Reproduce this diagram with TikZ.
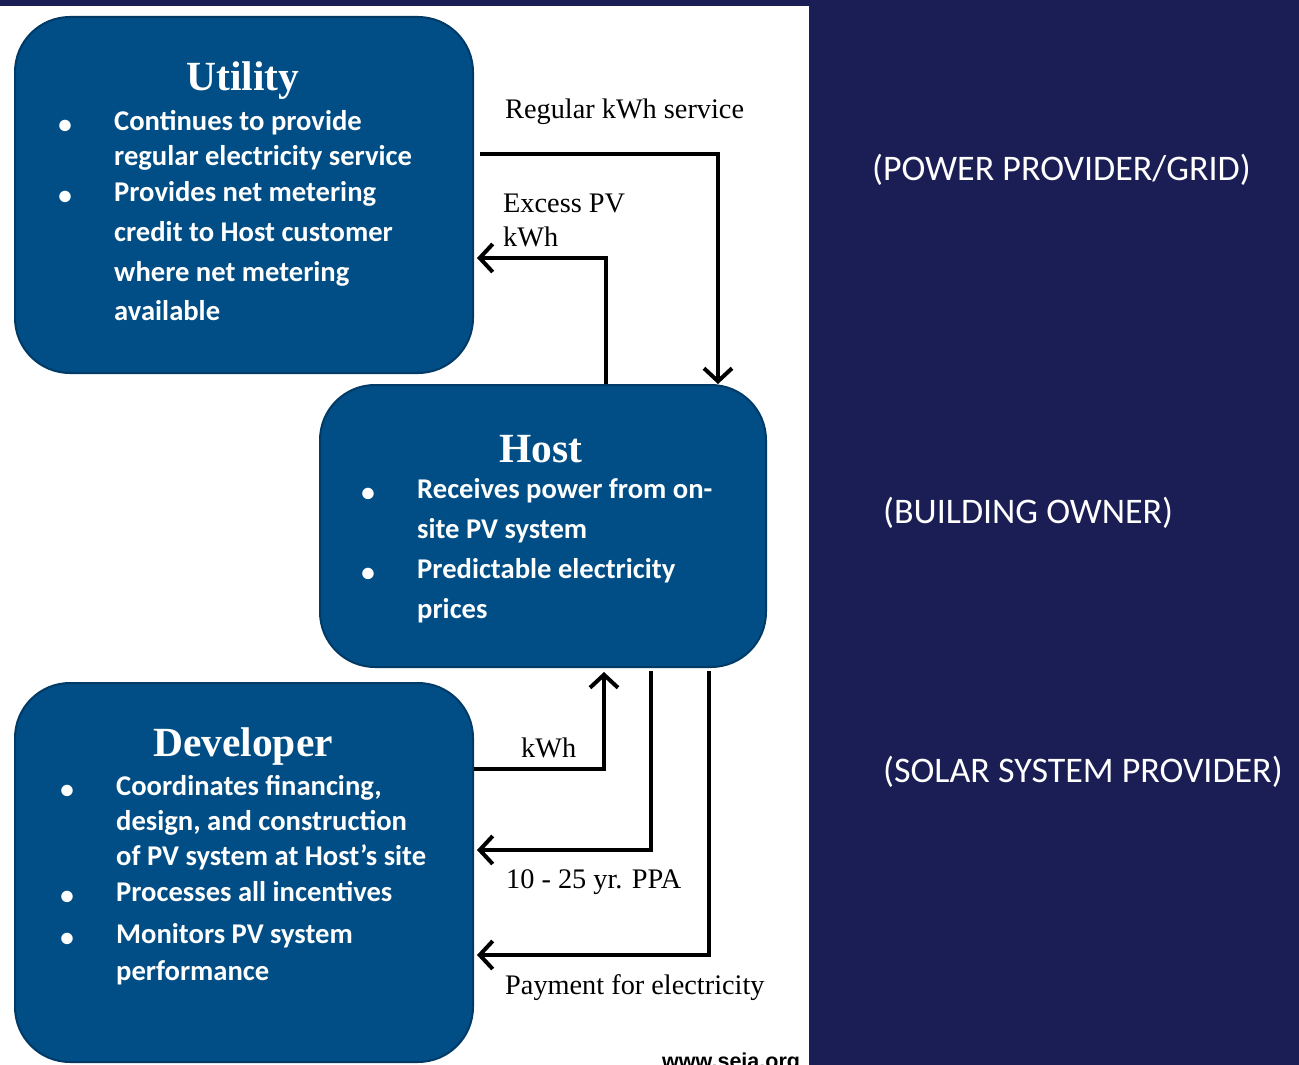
\documentclass[tikz,border=0pt]{standalone}
\usepackage{fontspec}
\setmainfont{Liberation Serif}
\newfontfamily\calfont{Carlito}
\newfontfamily\lsansfont{Liberation Sans}
\usetikzlibrary{arrows.meta}
\definecolor{navy}{RGB}{27,30,84}
\definecolor{boxblue}{RGB}{0,78,133}
\definecolor{boxedge}{RGB}{0,58,102}
\begin{document}
\begin{tikzpicture}[x=1pt,y=-1pt,
 box/.style={draw=boxedge,line width=2pt,fill=boxblue,rounded corners=55pt,inner sep=0pt},
 boxtitle/.style={text=white,anchor=center,inner sep=0pt,font=\fontsize{41.5}{41.5}\selectfont\bfseries},
 item/.style={text=white,anchor=mid west,inner sep=0pt,font=\calfont\fontsize{28.6}{28.6}\selectfont\bfseries},
 bul/.style={text=white,anchor=center,inner sep=0pt,font=\calfont\fontsize{27}{27}\selectfont\bfseries},
 lab/.style={text=black,anchor=mid west,inner sep=0pt,font=\fontsize{28.3}{28.3}\selectfont},
 role/.style={text=white,anchor=mid west,inner sep=0pt,font=\calfont\fontsize{36}{36}\selectfont},
 flow/.style={draw=black,line width=4pt,-{Straight Barb[length=13pt,width=28pt]}}
]
\useasboundingbox (0,0) rectangle (1299,1065);
\fill[navy] (0,0) rectangle (1299,1065);
\fill[white] (0,6) rectangle (809,1065);

% boxes
\node[box,minimum width=458pt,minimum height=356pt] (util) at (244,195) {};
\node[box,minimum width=446pt,minimum height=282pt] (host) at (543,526) {};
\node[box,minimum width=458pt,minimum height=379pt] (dev) at (244,872.5) {};

% Utility text
\node[boxtitle] (ut) at (243,81) {Utility};
\node[bul] (ub1) at (65,127) {•};
\node[bul] (ub2) at (65,198) {•};
\node[item] (u1) at (114,128) {Continues to provide};
\node[item] (u2) at (114,163) {regular electricity service};
\node[item] (u3) at (114,199) {Provides net metering};
\node[item] (u4) at (114,239) {credit to Host customer};
\node[item] (u5) at (114,279) {where net metering};
\node[item] (u6) at (114,318) {available};

% Host text
\node[boxtitle] (ht) at (541,449) {Host};
\node[bul] (hb1) at (368,495) {•};
\node[bul] (hb2) at (368,575) {•};
\node[item] (h1) at (417,496) {Receives power from on-};
\node[item] (h2) at (417,536) {site PV system};
\node[item] (h3) at (417,576) {Predictable electricity};
\node[item] (h4) at (417,616) {prices};

% Developer text
\node[boxtitle] (dt) at (243,747) {Developer};
\node[bul] (db1) at (67,792) {•};
\node[bul] (db2) at (67,898) {•};
\node[bul] (db3) at (67,940) {•};
\node[item] (d1) at (116,793) {Coordinates financing,};
\node[item] (d2) at (116,828) {design, and construction};
\node[item] (d3) at (116,863) {of PV system at Host’s site};
\node[item] (d4) at (116,899) {Processes all incentives};
\node[item] (d5) at (116,941) {Monitors PV system};
\node[item] (d6) at (116,978) {performance};

% connectors
\draw[flow] ([xshift=6pt,yshift=41pt]util.east) -| ([xshift=175pt]host.north);
\draw[flow] ([xshift=63pt]host.north) |- ([xshift=3pt,yshift=-63pt]util.east);
\draw[flow] ([yshift=103.5pt]dev.east) -| ([xshift=61pt,yshift=-4pt]host.south);
\draw[flow] ([xshift=108pt,yshift=-3pt]host.south) |- ([xshift=3pt,yshift=22.5pt]dev.east);
\draw[flow] ([xshift=166pt,yshift=-3pt]host.south) |- ([xshift=3pt,yshift=-82.5pt]dev.east);

% connector labels
\node[lab] (l1) at (505,116) {Regular kWh service};
\node[lab] (l2) at (503,210) {Excess PV};
\node[lab] (l3) at (503,244) {kWh};
\node[lab] (l4) at (521,755) {kWh};
\node[lab] (l5) at (506,886) {10 - 25 yr. PPA};
\node[lab] (l6) at (505,992) {Payment for electricity};

% role labels
\node[role] (r1) at (872,178) {(POWER PROVIDER/GRID)};
\node[role] (r2) at (883,521) {(BUILDING OWNER)};
\node[role] (r3) at (883,780) {(SOLAR SYSTEM PROVIDER)};

% source
\node[anchor=base west,inner sep=0pt,text=black,font=\lsansfont\fontsize{21.5}{21.5}\selectfont\bfseries] (src) at (662,1068) {www.seia.org};
\end{tikzpicture}
\end{document}
